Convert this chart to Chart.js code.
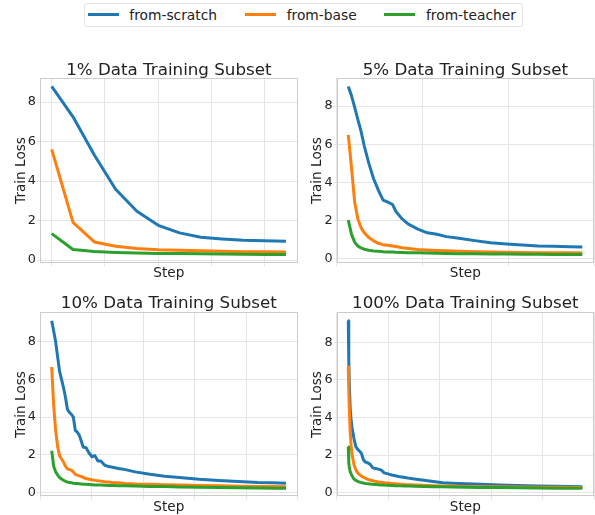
<!DOCTYPE html>
<html><head><meta charset="utf-8">
<script src="https://cdn.jsdelivr.net/npm/chart.js@4.4.1/dist/chart.umd.min.js"></script>
<style>
html,body{margin:0;padding:0;background:#fff;}
body{width:595px;height:515px;position:relative;overflow:hidden;font-family:"DejaVu Sans",sans-serif;}
canvas{position:absolute;}
#legend{position:absolute;left:84px;top:3px;width:439px;height:24px;box-sizing:border-box;border:1px solid #e3e3e3;border-radius:3px;}
.sw{position:absolute;top:12.5px;height:3px;width:31px;}
.lt{position:absolute;top:2.6px;font-size:13.8px;line-height:24px;color:#222;white-space:nowrap;}
</style>
</head><body>
<div id="legend"></div>
<div class="sw" style="left:88.3px;background:#1f77b4"></div><span class="lt" style="left:129.3px">from-scratch</span>
<div class="sw" style="left:245px;background:#ff7f0e"></div><span class="lt" style="left:286.7px">from-base</span>
<div class="sw" style="left:384.3px;background:#2ca02c"></div><span class="lt" style="left:426px">from-teacher</span>
<script>
// ---- data ----
const seriesNames = ['from-scratch', 'from-base', 'from-teacher'];
const seriesColors = ['#1f77b4', '#ff7f0e', '#2ca02c'];
const panelTitles = ['1% Data Training Subset', '5% Data Training Subset', '10% Data Training Subset', '100% Data Training Subset'];
const yTickValues = [0, 2, 4, 6, 8];

const steps1 = [0, 20, 40, 60, 80, 100, 120, 140, 160, 180, 200, 220];
const scratch1 = [8.79, 7.25, 5.32, 3.59, 2.47, 1.76, 1.38, 1.16, 1.07, 1.00, 0.98, 0.96];
const base1 = [5.60, 1.91, 0.92, 0.70, 0.59, 0.53, 0.50, 0.47, 0.45, 0.43, 0.42, 0.41];
const teacher1 = [1.34, 0.54, 0.44, 0.39, 0.36, 0.34, 0.33, 0.32, 0.31, 0.30, 0.29, 0.28];

const steps5 = [0, 20, 40, 60, 80, 100, 130, 160, 190, 220, 250, 280, 300, 340, 380, 440, 500, 560, 620, 700, 800, 900, 1000, 1100, 1200, 1300, 1400, 1480];
const scratch5 = [9.03, 8.55, 7.95, 7.30, 6.70, 5.95, 5.00, 4.20, 3.60, 3.08, 2.97, 2.85, 2.50, 2.10, 1.82, 1.56, 1.37, 1.29, 1.17, 1.08, 0.96, 0.85, 0.79, 0.73, 0.68, 0.66, 0.64, 0.63];
const base5 = [6.49, 4.80, 3.00, 2.10, 1.65, 1.38, 1.12, 0.95, 0.82, 0.75, 0.72, 0.68, 0.65, 0.59, 0.55, 0.50, 0.47, 0.45, 0.43, 0.40, 0.38, 0.36, 0.35, 0.34, 0.33, 0.32, 0.32, 0.31];
const teacher5 = [2.03, 1.30, 0.88, 0.68, 0.58, 0.51, 0.46, 0.42, 0.40, 0.38, 0.37, 0.36, 0.35, 0.34, 0.33, 0.32, 0.31, 0.30, 0.29, 0.28, 0.27, 0.26, 0.26, 0.25, 0.25, 0.24, 0.24, 0.23];

const steps10 = [0, 20, 40, 60, 80, 100, 120, 140, 160, 180, 200, 220, 240, 260, 280, 300, 320, 350, 380, 410, 440, 470, 500, 540, 580, 620, 680, 750, 850, 1000, 1150, 1300, 1500, 1700, 1900, 2100, 2250, 2385];
const scratch10 = [9.10, 8.55, 7.98, 7.20, 6.42, 6.00, 5.55, 5.05, 4.40, 4.25, 4.15, 4.00, 3.30, 3.20, 3.05, 2.75, 2.42, 2.38, 2.10, 1.90, 1.96, 1.68, 1.68, 1.45, 1.38, 1.34, 1.28, 1.22, 1.10, 0.97, 0.87, 0.80, 0.71, 0.65, 0.59, 0.54, 0.52, 0.50];
const base10 = [6.65, 4.60, 3.30, 2.45, 1.95, 1.78, 1.62, 1.40, 1.26, 1.22, 1.19, 1.10, 0.97, 0.93, 0.89, 0.86, 0.80, 0.75, 0.71, 0.68, 0.65, 0.63, 0.61, 0.58, 0.56, 0.54, 0.52, 0.49, 0.46, 0.44, 0.42, 0.40, 0.38, 0.36, 0.34, 0.33, 0.32, 0.31];
const teacher10 = [2.22, 1.40, 1.10, 0.94, 0.80, 0.72, 0.66, 0.60, 0.56, 0.54, 0.52, 0.50, 0.49, 0.48, 0.47, 0.46, 0.45, 0.44, 0.43, 0.42, 0.41, 0.41, 0.40, 0.39, 0.38, 0.38, 0.37, 0.36, 0.35, 0.33, 0.32, 0.30, 0.29, 0.27, 0.26, 0.25, 0.24, 0.23];

const steps100 = [0, 50, 100, 200, 300, 400, 600, 800, 1000, 1200, 1400, 1600, 1800, 2000, 2300, 2600, 2900, 3200, 3500, 3800, 4200, 4600, 5000, 5500, 6000, 6500, 7000, 8000, 9000, 10000, 11000, 12500, 14000, 16000, 18000, 20000, 22000, 24800];
const scratch100 = [9.15, 7.00, 5.90, 4.50, 3.85, 3.45, 2.88, 2.45, 2.30, 2.20, 2.08, 1.75, 1.63, 1.60, 1.52, 1.32, 1.28, 1.25, 1.20, 1.05, 1.00, 0.94, 0.90, 0.84, 0.80, 0.76, 0.73, 0.66, 0.59, 0.53, 0.50, 0.47, 0.44, 0.41, 0.38, 0.36, 0.34, 0.32];
const base100 = [6.68, 5.50, 4.60, 3.25, 2.50, 2.05, 1.50, 1.22, 1.05, 0.95, 0.88, 0.82, 0.77, 0.72, 0.67, 0.63, 0.60, 0.57, 0.55, 0.53, 0.51, 0.49, 0.47, 0.45, 0.43, 0.42, 0.41, 0.39, 0.37, 0.36, 0.35, 0.33, 0.32, 0.31, 0.30, 0.29, 0.29, 0.28];
const teacher100 = [2.43, 1.60, 1.38, 1.12, 1.00, 0.90, 0.72, 0.65, 0.60, 0.56, 0.53, 0.51, 0.49, 0.48, 0.46, 0.44, 0.43, 0.42, 0.41, 0.40, 0.39, 0.38, 0.37, 0.36, 0.35, 0.35, 0.34, 0.33, 0.32, 0.31, 0.30, 0.29, 0.28, 0.27, 0.26, 0.25, 0.24, 0.23];

const xGridSteps = [50, 500, 500, 5000];

// ---- styles ----
const GRID = '#e5e5e5';
const FRAME = '#cccccc';
const TEXT = '#222222';
const FAMILY = '"DejaVu Sans", sans-serif';

const framePlugin = {
  id: 'frame',
  afterDraw(chart) {
    const a = chart.chartArea, ctx = chart.ctx;
    ctx.save();
    ctx.strokeStyle = FRAME;
    ctx.lineWidth = 1;
    ctx.strokeRect(Math.round(a.left) + 0.5, Math.round(a.top) + 0.5, Math.round(a.right - a.left) - 1, Math.round(a.bottom - a.top) - 1);
    ctx.restore();
  }
};

function makePanel(cfg) {
  const c = document.createElement('canvas');
  c.width = cfg.w; c.height = cfg.h;
  c.style.left = cfg.left + 'px'; c.style.top = cfg.top + 'px';
  c.style.width = cfg.w + 'px'; c.style.height = cfg.h + 'px';
  document.body.appendChild(c);
  const all = cfg.series.flat();
  const ymin = Math.min(...all), ymax = Math.max(...all), yr = ymax - ymin;
  const x0 = cfg.steps[0], x1 = cfg.steps[cfg.steps.length - 1], xr = x1 - x0;
  new Chart(c, {
    type: 'line',
    data: {
      datasets: cfg.series.map((s, i) => ({
        label: seriesNames[i],
        data: s.map((v, k) => ({ x: cfg.steps[k], y: v })),
        borderColor: seriesColors[i],
        backgroundColor: seriesColors[i],
        borderWidth: 3,
        pointRadius: 0,
        tension: 0,
        fill: false,
        order: 3 - i,
        borderJoinStyle: 'round',
        borderCapStyle: 'butt'
      }))
    },
    options: {
      responsive: false,
      animation: false,
      devicePixelRatio: 1,
      layout: { padding: { left: 0, top: 0, right: cfg.padRight, bottom: 0 } },
      plugins: { legend: { display: false }, tooltip: { enabled: false }, title: { display: false } },
      scales: {
        x: {
          type: 'linear', position: 'bottom',
          min: x0 - 0.05 * xr, max: x1 + 0.05 * xr,
          ticks: { display: false, stepSize: cfg.xStep, includeBounds: false },
          grid: { color: GRID, lineWidth: 1, drawTicks: true, tickLength: 3 },
          border: { display: false },
          title: { display: true, text: 'Step', color: TEXT, font: { family: FAMILY, size: 13.6, lineHeight: 1 }, padding: { top: 0, bottom: cfg.stepPad } },
          afterFit: s => { s.height = cfg.botH; }
        },
        xTop: {
          type: 'linear', position: 'top', axis: 'x', min: 0, max: 1,
          ticks: { display: false },
          grid: { display: false },
          border: { display: false },
          title: { display: true, text: cfg.title, color: TEXT, font: { family: FAMILY, size: 16.7, lineHeight: 1.2 }, padding: { top: cfg.titlePad, bottom: 0 } },
          afterFit: s => { s.height = cfg.topH; }
        },
        y: {
          type: 'linear', position: 'left',
          min: ymin - 0.05 * yr, max: ymax + 0.05 * yr,
          afterBuildTicks: s => { s.ticks = yTickValues.map(v => ({ value: v })); },
          ticks: { color: TEXT, font: { family: FAMILY, size: 12.8 }, padding: 1 },
          grid: { color: GRID, lineWidth: 1, drawTicks: true, tickLength: 3 },
          border: { display: false },
          title: { display: true, text: 'Train Loss', color: TEXT, font: { family: FAMILY, size: 13.6, lineHeight: 1 }, padding: { top: cfg.yTitlePad, bottom: 0 } },
          afterFit: s => { s.width = cfg.yW; }
        }
      }
    },
    plugins: [framePlugin]
  });
}

makePanel({ left: 0, top: 48, w: 300, h: 237, padRight: 2.3, yW: 40, topH: 30, botH: 22, titlePad: 12.5, stepPad: 5.2, yTitlePad: 14.2,
  title: panelTitles[0], steps: steps1, series: [scratch1, base1, teacher1], xStep: xGridSteps[0] });
makePanel({ left: 300, top: 48, w: 295, h: 237, padRight: 1, yW: 36.6, topH: 30, botH: 22, titlePad: 12.5, stepPad: 5.2, yTitlePad: 10.9,
  title: panelTitles[1], steps: steps5, series: [scratch5, base5, teacher5], xStep: xGridSteps[1] });
makePanel({ left: 0, top: 282, w: 300, h: 233, padRight: 2.3, yW: 40, topH: 30.3, botH: 18.3, titlePad: 11.9, stepPad: 0.6, yTitlePad: 14.2,
  title: panelTitles[2], steps: steps10, series: [scratch10, base10, teacher10], xStep: xGridSteps[2] });
makePanel({ left: 300, top: 282, w: 295, h: 233, padRight: 1, yW: 36.6, topH: 30.3, botH: 18.3, titlePad: 11.9, stepPad: 0.6, yTitlePad: 10.9,
  title: panelTitles[3], steps: steps100, series: [scratch100, base100, teacher100], xStep: xGridSteps[3] });
</script>
</body></html>
